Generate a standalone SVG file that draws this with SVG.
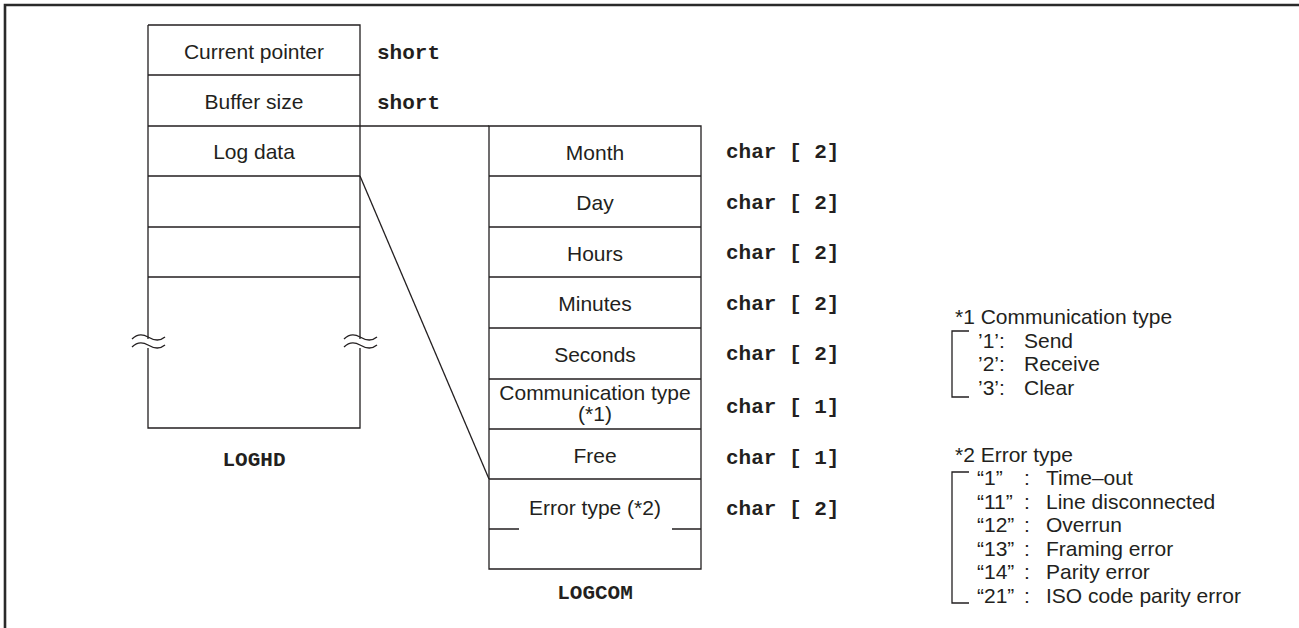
<svg xmlns="http://www.w3.org/2000/svg" width="1299" height="628" viewBox="0 0 1299 628">
<style>
.ln{stroke:#231f20;stroke-width:1.3;fill:none}
.t{font-family:"Liberation Sans",Arial,sans-serif;font-size:21px;fill:#231f20}
.c{text-anchor:middle}
.m{font-family:"Liberation Mono","Courier New",monospace;font-size:21px;font-weight:bold;fill:#231f20}
</style>
<defs>
<path id="sq" class="ln" d="M0,4 C5,-1 11,-1 16,2 S27,7 33,2 M0,12 C5,7 11,7 16,10 S27,15 33,10"/>
</defs>
<rect width="1299" height="628" fill="#fff"/>
<path d="M5,628 V5 H1299" stroke="#2a2a2a" stroke-width="2.6" fill="none"/>

<g id="connectors">
<line class="ln" x1="360" y1="126" x2="489" y2="126"/>
<line class="ln" x1="360" y1="176" x2="489" y2="479"/>
</g>

<g id="loghd">
<path class="ln" d="M148,25 H360 V339 M360,348 V428 H148 V348 M148,339 V25"/>
<path class="ln" d="M148,75 H360 M148,126 H360 M148,176 H360 M148,227 H360 M148,277 H360"/>
<use href="#sq" x="132" y="335"/>
<use href="#sq" x="344" y="335"/>
<text class="t c" x="254" y="59">Current pointer</text>
<text class="t c" x="254" y="109">Buffer size</text>
<text class="t c" x="254" y="159">Log data</text>
<text class="m" x="377" y="59">short</text>
<text class="m" x="377" y="109">short</text>
<text class="m c" x="254" y="466">LOGHD</text>
</g>

<g id="logcom">
<path class="ln" d="M489,126 H701 V569 H489 Z"/>
<path class="ln" d="M489,176 H701 M489,227 H701 M489,277 H701 M489,328 H701 M489,379 H701 M489,429 H701 M489,479 H701 M489,529 H519 M672,529 H701"/>
<text class="t c" x="595" y="160">Month</text>
<text class="t c" x="595" y="210">Day</text>
<text class="t c" x="595" y="261">Hours</text>
<text class="t c" x="595" y="311">Minutes</text>
<text class="t c" x="595" y="362">Seconds</text>
<text class="t c" x="595" y="400">Communication type</text>
<text class="t c" x="595" y="421">(*1)</text>
<text class="t c" x="595" y="463">Free</text>
<text class="t c" x="595" y="515">Error type (*2)</text>
<text class="m" x="726" y="158">char [ 2]</text>
<text class="m" x="726" y="209">char [ 2]</text>
<text class="m" x="726" y="259">char [ 2]</text>
<text class="m" x="726" y="310">char [ 2]</text>
<text class="m" x="726" y="360">char [ 2]</text>
<text class="m" x="726" y="413">char [ 1]</text>
<text class="m" x="726" y="464">char [ 1]</text>
<text class="m" x="726" y="515">char [ 2]</text>
<text class="m c" x="595" y="599">LOGCOM</text>
</g>

<g id="legend-comm">
<text class="t" x="955" y="324">*1 Communication type</text>
<path class="ln" d="M969,331 H952 V397 H969"/>
<text class="t" x="978" y="347.5">’1’:</text>
<text class="t" x="1024" y="347.5">Send</text>
<text class="t" x="978" y="371">’2’:</text>
<text class="t" x="1024" y="371">Receive</text>
<text class="t" x="978" y="394.5">’3’:</text>
<text class="t" x="1024" y="394.5">Clear</text>
</g>

<g id="legend-error">
<text class="t" x="955" y="462">*2 Error type</text>
<path class="ln" d="M969,472 H952 V603 H969"/>
<text class="t" x="977" y="485">“1”</text><text class="t" x="1024" y="485">:</text><text class="t" x="1046" y="485">Time–out</text>
<text class="t" x="977" y="508.5">“11”</text><text class="t" x="1024" y="508.5">:</text><text class="t" x="1046" y="508.5">Line disconnected</text>
<text class="t" x="977" y="532">“12”</text><text class="t" x="1024" y="532">:</text><text class="t" x="1046" y="532">Overrun</text>
<text class="t" x="977" y="555.5">“13”</text><text class="t" x="1024" y="555.5">:</text><text class="t" x="1046" y="555.5">Framing error</text>
<text class="t" x="977" y="579">“14”</text><text class="t" x="1024" y="579">:</text><text class="t" x="1046" y="579">Parity error</text>
<text class="t" x="977" y="603">“21”</text><text class="t" x="1024" y="603">:</text><text class="t" x="1046" y="603">ISO code parity error</text>
</g>
</svg>
